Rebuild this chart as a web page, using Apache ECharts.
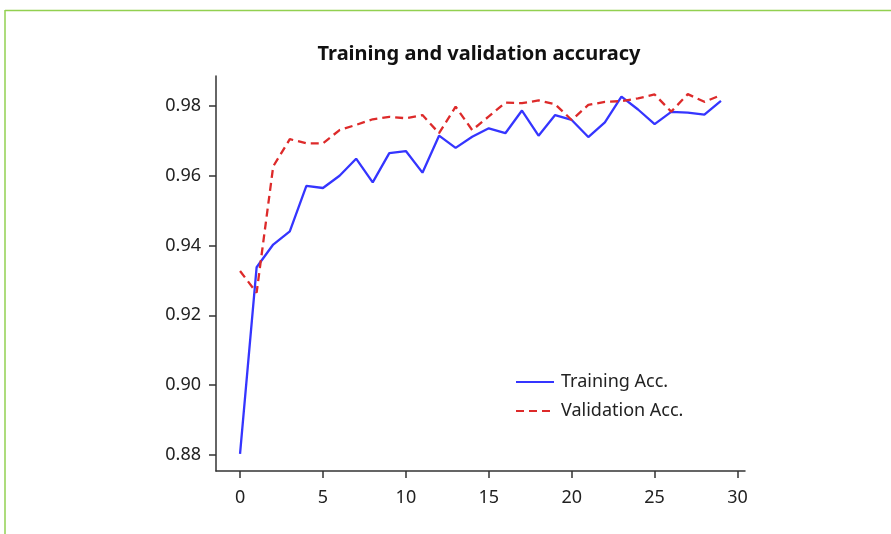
<!DOCTYPE html>
<html>
<head>
<meta charset="utf-8">
<script src="https://cdn.jsdelivr.net/npm/echarts@6/dist/echarts.min.js"></script>
<style>
  html, body { margin: 0; padding: 0; background: #fff; }
  #main { width: 891px; height: 534px; }
</style>
</head>
<body>
<div id="main"></div>
<script>
// epochs 0..29
var epochs = [];
for (var i = 0; i < 30; i++) epochs.push(i);

var trainAcc = [0.8803, 0.9338, 0.9403, 0.9441, 0.9571, 0.9565, 0.9600, 0.9649, 0.9581, 0.9665,
                0.9671, 0.9609, 0.9715, 0.9680, 0.9712, 0.9736, 0.9722, 0.9787, 0.9715, 0.9774,
                0.9760, 0.9711, 0.9753, 0.9827, 0.9790, 0.9748, 0.9783, 0.9781, 0.9775, 0.9815];
var valAcc = [0.9327, 0.9265, 0.9627, 0.9705, 0.9693, 0.9693, 0.9731, 0.9746, 0.9762, 0.9769,
              0.9765, 0.9774, 0.9722, 0.9798, 0.9731, 0.9770, 0.9810, 0.9808, 0.9816, 0.9805,
              0.9760, 0.9803, 0.9812, 0.9814, 0.9822, 0.9833, 0.9784, 0.9834, 0.9812, 0.9831];

var xTicks = [0, 5, 10, 15, 20, 25, 30];
var yTicks = [0.88, 0.90, 0.92, 0.94, 0.96, 0.98];

function pairs(ys) {
    return ys.map(function (v, k) { return [epochs[k], v]; });
}

var font = 'Noto Sans';
var axisCol = '#333';

var chart = echarts.init(document.getElementById('main'));
var option = {
    animation: false,
    title: {
        text: 'Training and validation accuracy',
        left: 479,
        textAlign: 'center',
        top: 44,
        padding: 0,
        textStyle: { fontFamily: font, fontSize: 20, fontWeight: 'bold', color: '#111' }
    },
    legend: {
        orient: 'vertical',
        left: 515,
        top: 371,
        padding: 0,
        itemWidth: 38,
        itemHeight: 14,
        itemGap: 7,
        itemStyle: { color: 'rgba(0,0,0,0)', borderWidth: 0 },
        textStyle: { fontFamily: font, fontSize: 18, color: '#222', lineHeight: 22, padding: [0, 0, 0, 2] },
        data: ['Training Acc.', 'Validation Acc.']
    },
    grid: { left: 216, right: 146, top: 76, bottom: 63 },
    xAxis: {
        type: 'value',
        min: -1.45,
        max: 30.45,
        splitLine: { show: false },
        axisLine: { onZero: false, lineStyle: { color: axisCol, width: 1.5 } },
        axisTick: { customValues: xTicks, length: 7, lineStyle: { color: axisCol, width: 1.5 } },
        axisLabel: {
            customValues: xTicks,
            margin: 18,
            fontFamily: font, fontSize: 18, color: '#222'
        }
    },
    yAxis: {
        type: 'value',
        min: 0.8754,
        max: 0.9886,
        splitLine: { show: false },
        axisLine: { show: true, onZero: false, lineStyle: { color: axisCol, width: 1.5 } },
        axisTick: { show: true, customValues: yTicks, length: 7, lineStyle: { color: axisCol, width: 1.5 } },
        axisLabel: {
            customValues: yTicks,
            margin: 15,
            fontFamily: font, fontSize: 18, color: '#222',
            formatter: function (v) { return v.toFixed(2); }
        }
    },
    graphic: [
        { type: 'line', shape: { x1: 5, y1: 10.5, x2: 891, y2: 10.5 }, style: { stroke: '#92d050', lineWidth: 1.5 } },
        { type: 'line', shape: { x1: 5, y1: 10, x2: 5, y2: 534 }, style: { stroke: '#92d050', lineWidth: 1.5 } }
    ],
    series: [
        {
            name: 'Training Acc.',
            type: 'line',
            symbol: 'none',
            data: pairs(trainAcc),
            lineStyle: { color: '#3535ff', width: 2.3 },
            itemStyle: { color: '#3535ff' }
        },
        {
            name: 'Validation Acc.',
            type: 'line',
            symbol: 'none',
            data: pairs(valAcc),
            lineStyle: { color: '#dd2a2a', width: 2.3, type: [8, 5] },
            itemStyle: { color: '#dd2a2a' }
        }
    ]
};
chart.setOption(option);
</script>
</body>
</html>
